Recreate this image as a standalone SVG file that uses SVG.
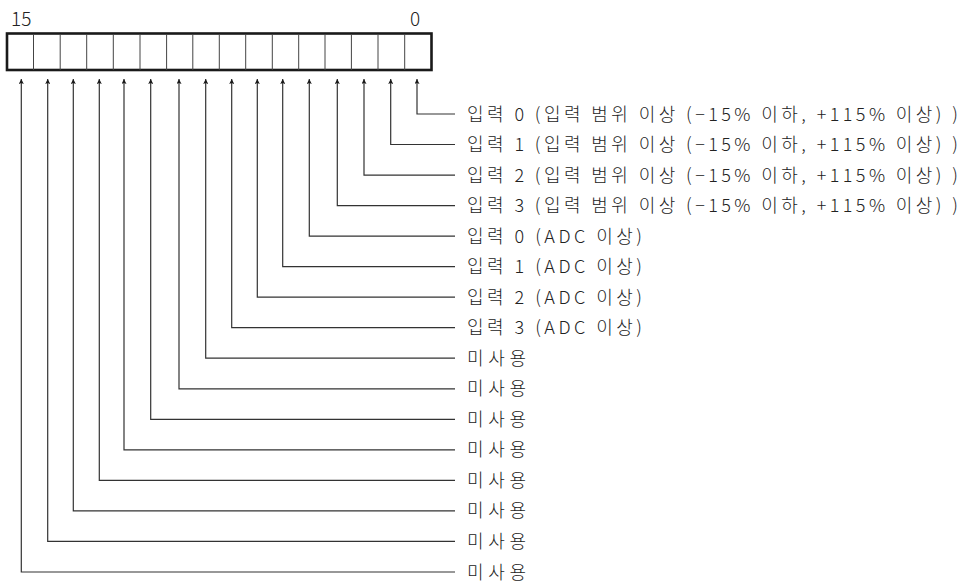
<svg xmlns="http://www.w3.org/2000/svg" width="966" height="586" viewBox="0 0 966 586">
<style>
text{font-family:"Noto Sans CJK KR","Noto Sans",sans-serif;font-size:18px;font-weight:300;fill:#222}
.bit{font-size:19px}
.cell{stroke:#444;stroke-width:1}
.frame{fill:#fff;stroke:#1a1a1a;stroke-width:2.6}
.conn{fill:none;stroke:#333;stroke-width:1.2;marker-end:url(#ah)}
</style>
<defs>
<marker id="ah" viewBox="0 0 10 10" refX="10" refY="5" markerWidth="9" markerHeight="5" markerUnits="userSpaceOnUse" orient="auto">
<path d="M0,0 L10,5 L0,10 L2,5 z" fill="#1a1a1a"/>
</marker>
</defs>
<rect width="966" height="586" fill="#fff"/>
<g id="register">
<rect class="frame" x="7" y="33.5" width="424.5" height="36.5"/>
<g class="cell">
<line x1="33.5" y1="34" x2="33.5" y2="70"/>
<line x1="60.2" y1="34" x2="60.2" y2="70"/>
<line x1="86.7" y1="34" x2="86.7" y2="70"/>
<line x1="113.3" y1="34" x2="113.3" y2="70"/>
<line x1="140" y1="34" x2="140" y2="70"/>
<line x1="166.6" y1="34" x2="166.6" y2="70"/>
<line x1="192.8" y1="34" x2="192.8" y2="70"/>
<line x1="219.3" y1="34" x2="219.3" y2="70"/>
<line x1="245.7" y1="34" x2="245.7" y2="70"/>
<line x1="272.3" y1="34" x2="272.3" y2="70"/>
<line x1="298.7" y1="34" x2="298.7" y2="70"/>
<line x1="325" y1="34" x2="325" y2="70"/>
<line x1="351.4" y1="34" x2="351.4" y2="70"/>
<line x1="378" y1="34" x2="378" y2="70"/>
<line x1="404.7" y1="34" x2="404.7" y2="70"/>
</g>
<text class="bit" x="11" y="26">15</text>
<text class="bit" x="410" y="26">0</text>
</g>
<g id="connectors">
<path class="conn" d="M455,114 H417 V79"/>
<path class="conn" d="M455,144.5 H390.7 V79"/>
<path class="conn" d="M455,175.1 H364 V79"/>
<path class="conn" d="M455,205.6 H337.3 V79"/>
<path class="conn" d="M455,236.1 H309.3 V79"/>
<path class="conn" d="M455,266.7 H282.7 V79"/>
<path class="conn" d="M455,297.2 H257.3 V79"/>
<path class="conn" d="M455,327.7 H231.7 V79"/>
<path class="conn" d="M455,358.2 H205.7 V79"/>
<path class="conn" d="M455,388.8 H179 V79"/>
<path class="conn" d="M455,419.3 H150.7 V79"/>
<path class="conn" d="M455,449.8 H124 V79"/>
<path class="conn" d="M455,480.4 H99.3 V79"/>
<path class="conn" d="M455,510.9 H73.3 V79"/>
<path class="conn" d="M455,541.4 H47.7 V79"/>
<path class="conn" d="M455,572 H21.3 V79"/>
</g>
<g id="label-bit0"><text x="467" y="120.5" textLength="491" lengthAdjust="spacing">입력 0 (입력 범위 이상 (−15% 이하, +115% 이상) )</text></g>
<g id="label-bit1"><text x="467" y="151" textLength="491" lengthAdjust="spacing">입력 1 (입력 범위 이상 (−15% 이하, +115% 이상) )</text></g>
<g id="label-bit2"><text x="467" y="181.6" textLength="491" lengthAdjust="spacing">입력 2 (입력 범위 이상 (−15% 이하, +115% 이상) )</text></g>
<g id="label-bit3"><text x="467" y="212.1" textLength="491" lengthAdjust="spacing">입력 3 (입력 범위 이상 (−15% 이하, +115% 이상) )</text></g>
<g id="label-bit4"><text x="467" y="242.6" textLength="175" lengthAdjust="spacing">입력 0 (ADC 이상)</text></g>
<g id="label-bit5"><text x="467" y="273.2" textLength="175" lengthAdjust="spacing">입력 1 (ADC 이상)</text></g>
<g id="label-bit6"><text x="467" y="303.7" textLength="175" lengthAdjust="spacing">입력 2 (ADC 이상)</text></g>
<g id="label-bit7"><text x="467" y="334.2" textLength="175" lengthAdjust="spacing">입력 3 (ADC 이상)</text></g>
<g id="label-bit8"><text x="467" y="364.7" textLength="59" lengthAdjust="spacing">미사용</text></g>
<g id="label-bit9"><text x="467" y="395.3" textLength="59" lengthAdjust="spacing">미사용</text></g>
<g id="label-bit10"><text x="467" y="425.8" textLength="59" lengthAdjust="spacing">미사용</text></g>
<g id="label-bit11"><text x="467" y="456.3" textLength="59" lengthAdjust="spacing">미사용</text></g>
<g id="label-bit12"><text x="467" y="486.9" textLength="59" lengthAdjust="spacing">미사용</text></g>
<g id="label-bit13"><text x="467" y="517.4" textLength="59" lengthAdjust="spacing">미사용</text></g>
<g id="label-bit14"><text x="467" y="547.9" textLength="59" lengthAdjust="spacing">미사용</text></g>
<g id="label-bit15"><text x="467" y="578.5" textLength="59" lengthAdjust="spacing">미사용</text></g>
</svg>
